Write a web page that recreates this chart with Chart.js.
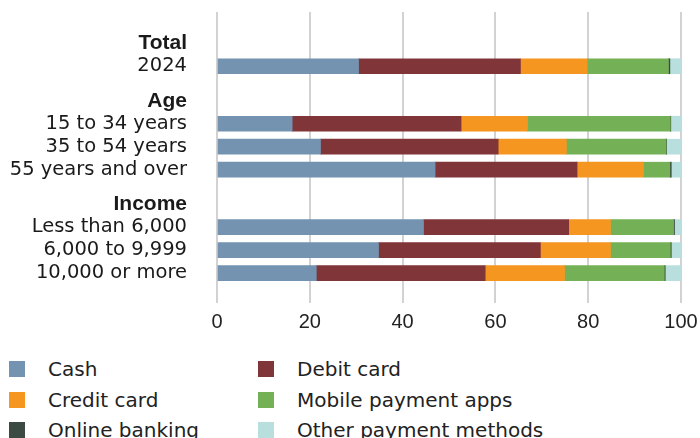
<!DOCTYPE html>
<html>
<head>
<meta charset="utf-8">
<script src="https://cdn.jsdelivr.net/npm/chart.js@4.4.1/dist/chart.umd.min.js"></script>
<style>
  html, body { margin: 0; padding: 0; background: #fff; overflow: hidden; }
  #wrap { position: relative; width: 700px; height: 438px; }
  #chart-box { position: absolute; left: 0; top: 0; width: 700px; height: 340px; }
  #legend {
    position: absolute; left: 9px; top: 354px;
    display: grid; grid-template-columns: 249px 300px; row-gap: 0;
    font-family: "DejaVu Sans", sans-serif; font-size: 20px; color: #222;
  }
  #legend .item { display: flex; align-items: center; height: 30.5px; white-space: nowrap; }
  #legend .swatch { width: 16px; height: 16px; margin-right: 23px; flex: none; }
</style>
</head>
<body>
<div id="wrap">
  <div id="chart-box"><canvas id="payments"></canvas></div>
  <div id="legend"></div>
</div>
<script>
// Row labels, top to bottom; group headings carry no bar
const rowLabels = ["Total", "2024", "Age", "15 to 34 years", "35 to 54 years", "55 years and over",
  "Income", "Less than 6,000", "6,000 to 9,999", "10,000 or more"];
const headings = ["Total", "Age", "Income"];

// Bar rows, in the same order as they appear in rowLabels
const barRows = ["2024", "15 to 34 years", "35 to 54 years", "55 years and over",
  "Less than 6,000", "6,000 to 9,999", "10,000 or more"];

// Share of payments, percent
const cash          = [30.5, 16.2, 22.3, 47.0, 44.5, 34.8, 21.4];
const debitCard     = [34.9, 36.4, 38.3, 30.6, 31.3, 34.9, 36.4];
const creditCard    = [14.4, 14.3, 14.7, 14.3,  9.0, 15.1, 17.1];
const mobileApps    = [17.5, 30.8, 21.5,  5.7, 13.6, 12.9, 21.5];
const onlineBanking = [ 0.3,  0.1,  0.1,  0.3,  0.2,  0.2,  0.2];
const otherMethods  = [ 2.4,  2.2,  3.1,  2.1,  1.4,  2.1,  3.4];

const xTicks = [0, 20, 40, 60, 80, 100];

// Row positions on the y scale: half a row of space before each new group
const rowPos = {};
let p = 0;
rowLabels.forEach(function (lab, i) {
  if (headings.includes(lab) && i > 0) p += 0.5;
  rowPos[lab] = p;
  p += 1;
});

function series(label, values, color) {
  return {
    label: label,
    data: values.map(function (v, i) { return { x: v, y: rowPos[barRows[i]] }; }),
    backgroundColor: color,
    borderWidth: 0,
    barThickness: 15
  };
}

// Builds the two-column legend under the canvas
const htmlLegend = {
  id: "htmlLegend",
  afterUpdate: function (chart) {
    const box = document.getElementById("legend");
    box.innerHTML = "";
    chart.options.plugins.legend.labels.generateLabels(chart).forEach(function (item) {
      const row = document.createElement("div");
      row.className = "item";
      const sw = document.createElement("span");
      sw.className = "swatch";
      sw.style.background = item.fillStyle;
      const tx = document.createElement("span");
      tx.textContent = item.text;
      row.appendChild(sw);
      row.appendChild(tx);
      box.appendChild(row);
    });
  }
};

new Chart(document.getElementById("payments"), {
  type: "bar",
  data: {
    datasets: [
      series("Cash", cash, "#7393b0"),
      series("Debit card", debitCard, "#803538"),
      series("Credit card", creditCard, "#f4961f"),
      series("Mobile payment apps", mobileApps, "#74b055"),
      series("Online banking", onlineBanking, "#3b4a42"),
      series("Other payment methods", otherMethods, "#b8dedd")
    ]
  },
  plugins: [htmlLegend],
  options: {
    indexAxis: "y",
    responsive: true,
    maintainAspectRatio: false,
    animation: false,
    layout: { padding: { top: 12, right: 19, left: 0, bottom: 0 } },
    plugins: {
      legend: { display: false },
      tooltip: { enabled: false }
    },
    scales: {
      x: {
        type: "linear",
        stacked: true,
        min: 0,
        max: 100,
        afterBuildTicks: function (scale) {
          scale.ticks = xTicks.map(function (v) { return { value: v }; });
        },
        afterFit: function (scale) {
          scale.height = 37;
          scale.paddingLeft = 0;
          scale.paddingRight = 0;
        },
        grid: { color: "#d2d2d2", lineWidth: 2, drawTicks: false },
        border: { display: false },
        ticks: { padding: 7, color: "#222", font: { family: "'Liberation Sans', Arial, sans-serif", size: 20 } }
      },
      y: {
        type: "linear",
        stacked: true,
        reverse: true,
        offset: false,
        min: -1.36,
        max: 11.3,
        afterBuildTicks: function (scale) {
          scale.ticks = rowLabels.map(function (lab) { return { value: rowPos[lab] }; });
        },
        afterFit: function (scale) {
          scale.width = 217;
          scale.paddingTop = 0;
          scale.paddingBottom = 0;
        },
        grid: { display: false, drawTicks: false, offset: false },
        border: { display: false },
        ticks: {
          padding: 30,
          color: "#1a1a1a",
          autoSkip: false,
          callback: function (value, index) { return rowLabels[index]; },
          font: function (ctx) {
            if (headings.includes(rowLabels[ctx.index])) {
              return { family: "'Liberation Sans', Arial, sans-serif", size: 21, weight: "bold" };
            }
            return { family: "'DejaVu Sans', sans-serif", size: 19.5, weight: "normal" };
          }
        }
      }
    }
  }
});
</script>
</body>
</html>
